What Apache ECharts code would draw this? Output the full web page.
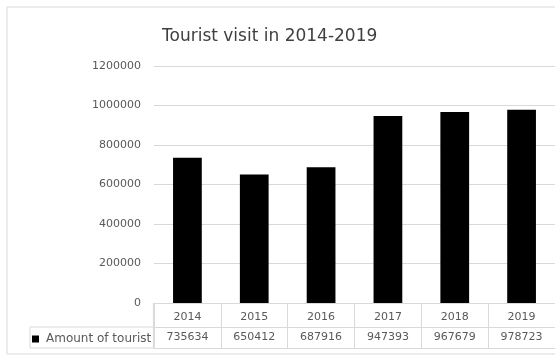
<!DOCTYPE html>
<html><head><meta charset="utf-8">
<script src="https://cdn.jsdelivr.net/npm/echarts@6/dist/echarts.min.js"></script>
<style>html,body{margin:0;padding:0;background:#fff}#c{width:555px;height:356px}</style>
</head><body><div id="c"></div>
<script>
const title = 'Tourist visit in 2014-2019';
const seriesName = 'Amount of tourist';
const years = ['2014', '2015', '2016', '2017', '2018', '2019'];
const tourists = [735634, 650412, 687916, 947393, 967679, 978723];
const yTicks = [0, 200000, 400000, 600000, 800000, 1000000, 1200000];

const font = 'DejaVu Sans';
const txt = '#595959';
const lineC = '#d9d9d9';
const chart = echarts.init(document.getElementById('c'));
chart.setOption({
  animation: false,
  title: { text: title, left: 157, top: 23,
    textStyle: { fontFamily: font, fontSize: 17, fontWeight: 'normal', color: '#404040' } },
  legend: { data: [seriesName], left: 32, top: 333, padding: 0, icon: 'rect', itemWidth: 7, itemHeight: 7, itemGap: 4,
    textStyle: { fontFamily: font, fontSize: 12, color: txt, padding: [0, 0, 0, 2] } },
  grid: { left: 154, top: 66, width: 407, height: 237, containLabel: false },
  xAxis: [
    { type: 'category', data: years, position: 'bottom',
      axisLine: { show: true, lineStyle: { color: lineC } },
      axisTick: { show: true, length: 45, lineStyle: { color: lineC } },
      axisLabel: { fontFamily: font, fontSize: 11, color: txt, margin: 9 } },
    { type: 'category', data: years, position: 'bottom', offset: 24,
      axisLine: { show: true, lineStyle: { color: lineC } }, axisTick: { show: false },
      axisLabel: { fontFamily: font, fontSize: 11, color: txt, margin: 5,
        formatter: (v, i) => String(tourists[i]) } },
    { type: 'category', data: years, position: 'bottom', offset: 45,
      axisLine: { show: true, lineStyle: { color: lineC } }, axisTick: { show: false }, axisLabel: { show: false } }
  ],
  yAxis: { type: 'value', min: yTicks[0], max: yTicks[yTicks.length - 1], interval: yTicks[1] - yTicks[0],
    axisLine: { show: false }, axisTick: { show: false },
    splitLine: { lineStyle: { color: lineC } },
    axisLabel: { fontFamily: font, fontSize: 11, color: txt, margin: 13, formatter: v => String(v) } },
  series: [{ name: seriesName, type: 'bar', data: tourists, barWidth: '43%', xAxisIndex: 0,
    itemStyle: { color: '#000000' } }]
});
// table frame for the legend-key cell, and the outer chart frame
const x0 = chart.convertToPixel({ xAxisIndex: 0 }, years[0]) - 34;
const yZero = chart.convertToPixel({ yAxisIndex: 0 }, 0);
chart.setOption({
  graphic: [
    { type: 'rect', shape: { x: 7, y: 7, width: 600, height: 347 }, style: { fill: 'none', stroke: lineC } },
    { type: 'polyline', shape: { points: [[x0, yZero + 24], [30, yZero + 24], [30, yZero + 45], [x0, yZero + 45]] },
      style: { fill: 'none', stroke: lineC } },
    { type: 'line', shape: { x1: x0, y1: yZero, x2: x0, y2: yZero + 45 }, style: { stroke: lineC } }
  ]
});
</script></body></html>
